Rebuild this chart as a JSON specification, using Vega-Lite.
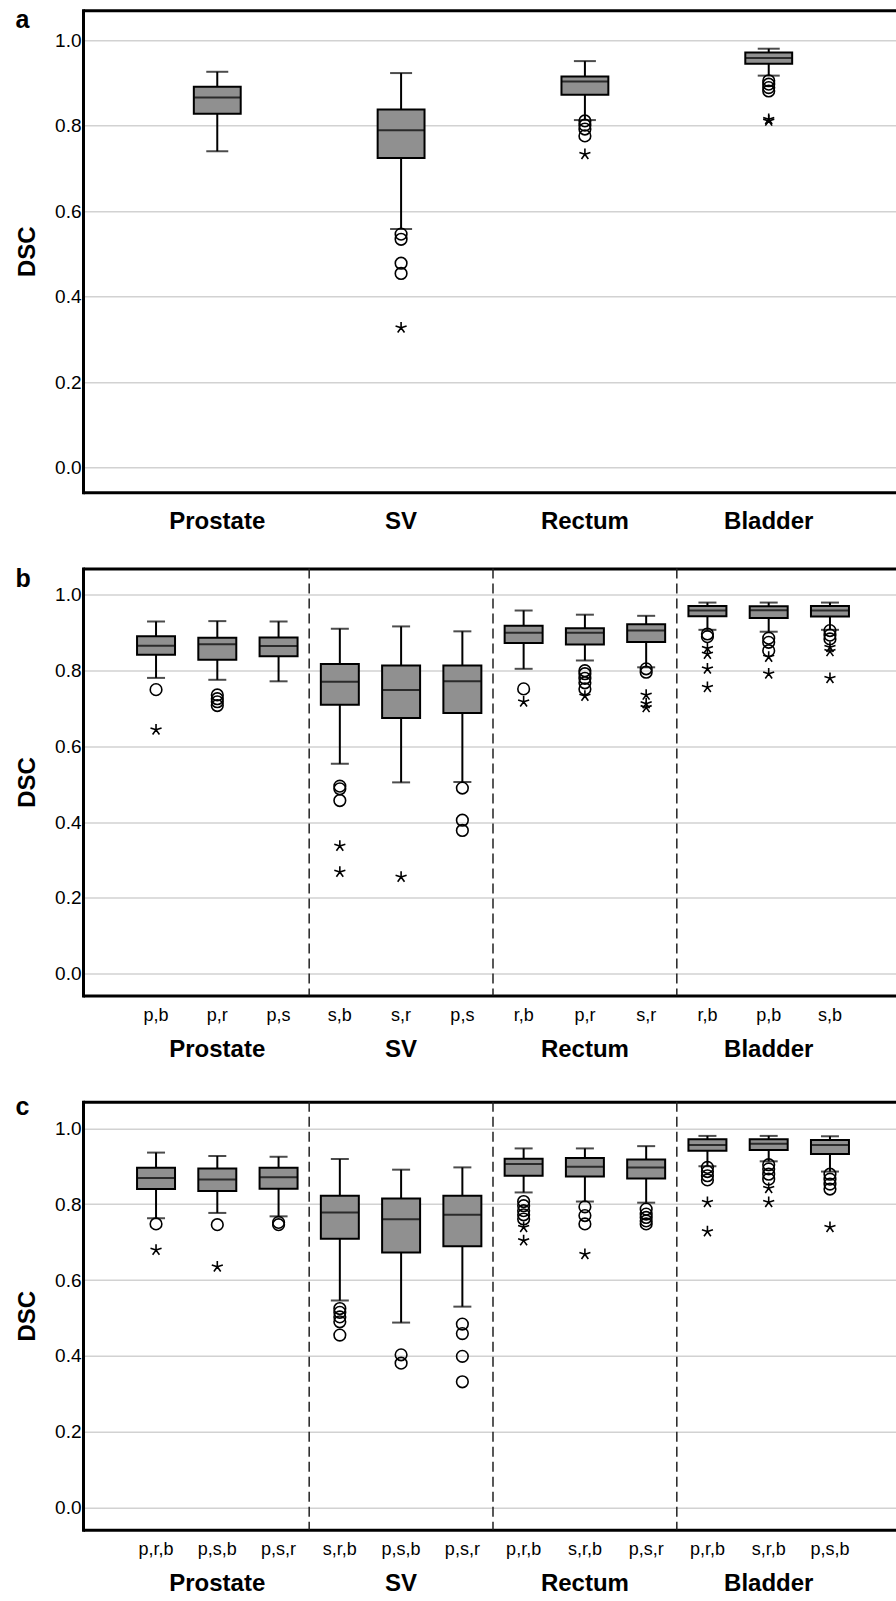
{
  "$schema": "https://vega.github.io/schema/vega-lite/v6.json",
  "background": "white",
  "padding": {"left": 15, "top": 7.25, "right": 0, "bottom": 0},
  "spacing": 33.25,
  "config": {
    "font": "Liberation Sans",
    "view": {"stroke": null},
    "axis": {"labelColor": "black", "titleColor": "black", "labelFont": "Liberation Sans", "titleFont": "Liberation Sans"},
    "title": {"anchor": "start", "frame": "bounds", "orient": "top", "fontSize": 25, "fontWeight": "bold", "color": "black", "font": "Liberation Sans"}
  },
  "datasets": {
    "boxA": [
      {"organ": "Prostate", "lo": 0.740, "q1": 0.828, "med": 0.866, "q3": 0.891, "hi": 0.926},
      {"organ": "SV", "lo": 0.558, "q1": 0.724, "med": 0.789, "q3": 0.838, "hi": 0.923},
      {"organ": "Rectum", "lo": 0.813, "q1": 0.872, "med": 0.903, "q3": 0.915, "hi": 0.951},
      {"organ": "Bladder", "lo": 0.917, "q1": 0.945, "med": 0.958, "q3": 0.971, "hi": 0.980}
    ],
    "outA": [
      {"organ": "SV", "v": 0.546, "kind": "circle"},
      {"organ": "SV", "v": 0.534, "kind": "circle"},
      {"organ": "SV", "v": 0.478, "kind": "circle"},
      {"organ": "SV", "v": 0.454, "kind": "circle"},
      {"organ": "SV", "v": 0.327, "kind": "star"},
      {"organ": "Rectum", "v": 0.811, "kind": "circle"},
      {"organ": "Rectum", "v": 0.801, "kind": "circle"},
      {"organ": "Rectum", "v": 0.792, "kind": "circle"},
      {"organ": "Rectum", "v": 0.776, "kind": "circle"},
      {"organ": "Rectum", "v": 0.733, "kind": "star"},
      {"organ": "Bladder", "v": 0.905, "kind": "circle"},
      {"organ": "Bladder", "v": 0.897, "kind": "circle"},
      {"organ": "Bladder", "v": 0.889, "kind": "circle"},
      {"organ": "Bladder", "v": 0.881, "kind": "circle"},
      {"organ": "Bladder", "v": 0.815, "kind": "star"},
      {"organ": "Bladder", "v": 0.811, "kind": "star"}
    ],
    "boxB": [
      {"key": "Prostate|p,b", "lo": 0.781, "q1": 0.842, "med": 0.866, "q3": 0.891, "hi": 0.930},
      {"key": "Prostate|p,r", "lo": 0.776, "q1": 0.829, "med": 0.870, "q3": 0.887, "hi": 0.931},
      {"key": "Prostate|p,s", "lo": 0.772, "q1": 0.838, "med": 0.865, "q3": 0.888, "hi": 0.930},
      {"key": "SV|s,b", "lo": 0.554, "q1": 0.710, "med": 0.771, "q3": 0.818, "hi": 0.911},
      {"key": "SV|s,r", "lo": 0.505, "q1": 0.675, "med": 0.749, "q3": 0.814, "hi": 0.917},
      {"key": "SV|p,s", "lo": 0.506, "q1": 0.688, "med": 0.772, "q3": 0.814, "hi": 0.904},
      {"key": "Rectum|r,b", "lo": 0.805, "q1": 0.873, "med": 0.900, "q3": 0.919, "hi": 0.959},
      {"key": "Rectum|p,r", "lo": 0.827, "q1": 0.869, "med": 0.900, "q3": 0.912, "hi": 0.948},
      {"key": "Rectum|s,r", "lo": 0.809, "q1": 0.876, "med": 0.906, "q3": 0.923, "hi": 0.945},
      {"key": "Bladder|r,b", "lo": 0.908, "q1": 0.944, "med": 0.959, "q3": 0.971, "hi": 0.980},
      {"key": "Bladder|p,b", "lo": 0.903, "q1": 0.939, "med": 0.960, "q3": 0.970, "hi": 0.980},
      {"key": "Bladder|s,b", "lo": 0.908, "q1": 0.943, "med": 0.959, "q3": 0.971, "hi": 0.980}
    ],
    "outB": [
      {"key": "Prostate|p,b", "v": 0.750, "kind": "circle"},
      {"key": "Prostate|p,b", "v": 0.644, "kind": "star"},
      {"key": "Prostate|p,r", "v": 0.736, "kind": "circle"},
      {"key": "Prostate|p,r", "v": 0.726, "kind": "circle"},
      {"key": "Prostate|p,r", "v": 0.718, "kind": "circle"},
      {"key": "Prostate|p,r", "v": 0.708, "kind": "circle"},
      {"key": "SV|s,b", "v": 0.495, "kind": "circle"},
      {"key": "SV|s,b", "v": 0.488, "kind": "circle"},
      {"key": "SV|s,b", "v": 0.457, "kind": "circle"},
      {"key": "SV|s,b", "v": 0.337, "kind": "star"},
      {"key": "SV|s,b", "v": 0.268, "kind": "star"},
      {"key": "SV|s,r", "v": 0.255, "kind": "star"},
      {"key": "SV|p,s", "v": 0.490, "kind": "circle"},
      {"key": "SV|p,s", "v": 0.405, "kind": "circle"},
      {"key": "SV|p,s", "v": 0.378, "kind": "circle"},
      {"key": "Rectum|r,b", "v": 0.752, "kind": "circle"},
      {"key": "Rectum|r,b", "v": 0.718, "kind": "star"},
      {"key": "Rectum|p,r", "v": 0.800, "kind": "circle"},
      {"key": "Rectum|p,r", "v": 0.792, "kind": "circle"},
      {"key": "Rectum|p,r", "v": 0.780, "kind": "circle"},
      {"key": "Rectum|p,r", "v": 0.768, "kind": "circle"},
      {"key": "Rectum|p,r", "v": 0.752, "kind": "circle"},
      {"key": "Rectum|p,r", "v": 0.733, "kind": "star"},
      {"key": "Rectum|s,r", "v": 0.805, "kind": "circle"},
      {"key": "Rectum|s,r", "v": 0.796, "kind": "circle"},
      {"key": "Rectum|s,r", "v": 0.736, "kind": "star"},
      {"key": "Rectum|s,r", "v": 0.713, "kind": "star"},
      {"key": "Rectum|s,r", "v": 0.703, "kind": "star"},
      {"key": "Bladder|r,b", "v": 0.897, "kind": "circle"},
      {"key": "Bladder|r,b", "v": 0.890, "kind": "circle"},
      {"key": "Bladder|r,b", "v": 0.859, "kind": "star"},
      {"key": "Bladder|r,b", "v": 0.844, "kind": "star"},
      {"key": "Bladder|r,b", "v": 0.805, "kind": "star"},
      {"key": "Bladder|r,b", "v": 0.756, "kind": "star"},
      {"key": "Bladder|p,b", "v": 0.886, "kind": "circle"},
      {"key": "Bladder|p,b", "v": 0.875, "kind": "circle"},
      {"key": "Bladder|p,b", "v": 0.853, "kind": "circle"},
      {"key": "Bladder|p,b", "v": 0.836, "kind": "star"},
      {"key": "Bladder|p,b", "v": 0.792, "kind": "star"},
      {"key": "Bladder|s,b", "v": 0.906, "kind": "circle"},
      {"key": "Bladder|s,b", "v": 0.894, "kind": "circle"},
      {"key": "Bladder|s,b", "v": 0.884, "kind": "circle"},
      {"key": "Bladder|s,b", "v": 0.862, "kind": "star"},
      {"key": "Bladder|s,b", "v": 0.851, "kind": "star"},
      {"key": "Bladder|s,b", "v": 0.780, "kind": "star"}
    ],
    "boxC": [
      {"key": "Prostate|p,r,b", "lo": 0.763, "q1": 0.840, "med": 0.869, "q3": 0.896, "hi": 0.936},
      {"key": "Prostate|p,s,b", "lo": 0.777, "q1": 0.835, "med": 0.865, "q3": 0.894, "hi": 0.927},
      {"key": "Prostate|p,s,r", "lo": 0.768, "q1": 0.841, "med": 0.871, "q3": 0.896, "hi": 0.925},
      {"key": "SV|s,r,b", "lo": 0.546, "q1": 0.709, "med": 0.778, "q3": 0.822, "hi": 0.919},
      {"key": "SV|p,s,b", "lo": 0.488, "q1": 0.673, "med": 0.760, "q3": 0.815, "hi": 0.891},
      {"key": "SV|p,s,r", "lo": 0.530, "q1": 0.689, "med": 0.772, "q3": 0.822, "hi": 0.897},
      {"key": "Rectum|p,r,b", "lo": 0.831, "q1": 0.875, "med": 0.906, "q3": 0.920, "hi": 0.947},
      {"key": "Rectum|s,r,b", "lo": 0.807, "q1": 0.873, "med": 0.899, "q3": 0.922, "hi": 0.947},
      {"key": "Rectum|p,s,r", "lo": 0.804, "q1": 0.868, "med": 0.897, "q3": 0.918, "hi": 0.953},
      {"key": "Bladder|p,r,b", "lo": 0.900, "q1": 0.941, "med": 0.956, "q3": 0.971, "hi": 0.980},
      {"key": "Bladder|s,r,b", "lo": 0.913, "q1": 0.943, "med": 0.959, "q3": 0.971, "hi": 0.980},
      {"key": "Bladder|p,s,b", "lo": 0.886, "q1": 0.932, "med": 0.956, "q3": 0.969, "hi": 0.979}
    ],
    "outC": [
      {"key": "Prostate|p,r,b", "v": 0.748, "kind": "circle"},
      {"key": "Prostate|p,r,b", "v": 0.679, "kind": "star"},
      {"key": "Prostate|p,s,b", "v": 0.746, "kind": "circle"},
      {"key": "Prostate|p,s,b", "v": 0.635, "kind": "star"},
      {"key": "Prostate|p,s,r", "v": 0.752, "kind": "circle"},
      {"key": "Prostate|p,s,r", "v": 0.746, "kind": "circle"},
      {"key": "SV|s,r,b", "v": 0.525, "kind": "circle"},
      {"key": "SV|s,r,b", "v": 0.515, "kind": "circle"},
      {"key": "SV|s,r,b", "v": 0.503, "kind": "circle"},
      {"key": "SV|s,r,b", "v": 0.490, "kind": "circle"},
      {"key": "SV|s,r,b", "v": 0.455, "kind": "circle"},
      {"key": "SV|p,s,b", "v": 0.403, "kind": "circle"},
      {"key": "SV|p,s,b", "v": 0.381, "kind": "circle"},
      {"key": "SV|p,s,r", "v": 0.484, "kind": "circle"},
      {"key": "SV|p,s,r", "v": 0.459, "kind": "circle"},
      {"key": "SV|p,s,r", "v": 0.399, "kind": "circle"},
      {"key": "SV|p,s,r", "v": 0.332, "kind": "circle"},
      {"key": "Rectum|p,r,b", "v": 0.807, "kind": "circle"},
      {"key": "Rectum|p,r,b", "v": 0.796, "kind": "circle"},
      {"key": "Rectum|p,r,b", "v": 0.783, "kind": "circle"},
      {"key": "Rectum|p,r,b", "v": 0.772, "kind": "circle"},
      {"key": "Rectum|p,r,b", "v": 0.761, "kind": "circle"},
      {"key": "Rectum|p,r,b", "v": 0.739, "kind": "star"},
      {"key": "Rectum|p,r,b", "v": 0.704, "kind": "star"},
      {"key": "Rectum|s,r,b", "v": 0.793, "kind": "circle"},
      {"key": "Rectum|s,r,b", "v": 0.770, "kind": "circle"},
      {"key": "Rectum|s,r,b", "v": 0.748, "kind": "circle"},
      {"key": "Rectum|s,r,b", "v": 0.668, "kind": "star"},
      {"key": "Rectum|p,s,r", "v": 0.787, "kind": "circle"},
      {"key": "Rectum|p,s,r", "v": 0.774, "kind": "circle"},
      {"key": "Rectum|p,s,r", "v": 0.765, "kind": "circle"},
      {"key": "Rectum|p,s,r", "v": 0.756, "kind": "circle"},
      {"key": "Rectum|p,s,r", "v": 0.748, "kind": "circle"},
      {"key": "Bladder|p,r,b", "v": 0.897, "kind": "circle"},
      {"key": "Bladder|p,r,b", "v": 0.886, "kind": "circle"},
      {"key": "Bladder|p,r,b", "v": 0.875, "kind": "circle"},
      {"key": "Bladder|p,r,b", "v": 0.864, "kind": "circle"},
      {"key": "Bladder|p,r,b", "v": 0.805, "kind": "star"},
      {"key": "Bladder|p,r,b", "v": 0.728, "kind": "star"},
      {"key": "Bladder|s,r,b", "v": 0.904, "kind": "circle"},
      {"key": "Bladder|s,r,b", "v": 0.893, "kind": "circle"},
      {"key": "Bladder|s,r,b", "v": 0.879, "kind": "circle"},
      {"key": "Bladder|s,r,b", "v": 0.866, "kind": "circle"},
      {"key": "Bladder|s,r,b", "v": 0.842, "kind": "star"},
      {"key": "Bladder|s,r,b", "v": 0.805, "kind": "star"},
      {"key": "Bladder|p,s,b", "v": 0.879, "kind": "circle"},
      {"key": "Bladder|p,s,b", "v": 0.866, "kind": "circle"},
      {"key": "Bladder|p,s,b", "v": 0.853, "kind": "circle"},
      {"key": "Bladder|p,s,b", "v": 0.840, "kind": "circle"},
      {"key": "Bladder|p,s,b", "v": 0.739, "kind": "star"}
    ],
    "dividers": [
      {"organ": "SV"},
      {"organ": "Rectum"},
      {"organ": "Bladder"}
    ]
  },
  "vconcat": [
    {
      "width": 813,
      "height": 482,
      "title": {"text": "a", "offset": -22.75},
      "encoding": {
        "x": {
          "field": "organ", "type": "nominal", "title": null,
          "scale": {"domain": ["Prostate", "SV", "Rectum", "Bladder"], "paddingInner": 0, "paddingOuter": 0.2114, "align": 0.545},
          "axis": {"orient": "bottom", "labelFontSize": 24, "labelFontWeight": "bold", "labelPadding": 17, "ticks": false, "tickSize": 0, "domain": false, "labelAngle": 0, "grid": false, "labelOverlap": false}
        }
      },
      "layer": [
        {
          "data": {"name": "boxA"},
          "mark": {"type": "rule", "color": "black", "strokeWidth": 2},
          "encoding": {
            "y": {
              "field": "lo", "type": "quantitative", "title": "DSC",
              "scale": {"domain": [-0.058, 1.07], "nice": false, "zero": false},
              "axis": {
                "values": [-0.058, 0, 0.2, 0.4, 0.6, 0.8, 1, 1.07],
                "labelExpr": "datum.value < -0.01 || datum.value > 1.01 ? '' : format(datum.value, '.1f')",
                "labelFontSize": 19,
                "titleFontSize": 24, "titleFontWeight": "bold", "titlePadding": 15,
                "labelPadding": 2, "ticks": false, "tickSize": 0,
                "domain": true, "domainColor": "black", "domainWidth": 3, "domainCap": "square",
                "grid": true,
                "gridColor": {"condition": {"test": "datum.value < -0.01 || datum.value > 1.01", "value": "black"}, "value": "#d2d2d2"},
                "gridWidth": {"condition": {"test": "datum.value < -0.01 || datum.value > 1.01", "value": 3}, "value": 1.5}
              }
            },
            "y2": {"field": "hi"}
          }
        },
        {
          "data": {"name": "boxA"},
          "mark": {"type": "tick", "color": "black", "size": 22, "thickness": 2},
          "encoding": {"y": {"field": "lo", "type": "quantitative", "title": "DSC"}}
        },
        {
          "data": {"name": "boxA"},
          "mark": {"type": "tick", "color": "black", "size": 22, "thickness": 2},
          "encoding": {"y": {"field": "hi", "type": "quantitative", "title": "DSC"}}
        },
        {
          "data": {"name": "boxA"},
          "mark": {"type": "bar", "width": {"band": 0.255}, "fill": "#909090", "stroke": "black", "strokeWidth": 2},
          "encoding": {"y": {"field": "q1", "type": "quantitative", "title": "DSC"}, "y2": {"field": "q3"}}
        },
        {
          "data": {"name": "boxA"},
          "mark": {"type": "tick", "color": "black", "size": 46, "thickness": 2},
          "encoding": {"y": {"field": "med", "type": "quantitative", "title": "DSC"}}
        },
        {
          "data": {"name": "outA"},
          "mark": {"type": "point", "filled": false, "color": "black", "strokeWidth": 1.6, "size": 135, "opacity": 1},
          "encoding": {
            "y": {"field": "v", "type": "quantitative", "title": "DSC"},
            "shape": {"field": "kind", "type": "nominal", "legend": null, "scale": {"domain": ["circle", "star"], "range": ["circle", "M0,0L0,-1M0,0L0.951,-0.309M0,0L-0.951,-0.309M0,0L0.588,0.809M0,0L-0.588,0.809"]}}
          }
        }
      ]
    },
    {
      "width": 813,
      "height": 427,
      "title": {"text": "b", "offset": -23.75},
      "resolve": {"scale": {"x": "independent"}, "axis": {"x": "independent"}},
      "layer": [
        {
          "encoding": {
            "x": {
              "field": "key", "type": "nominal", "title": null,
              "scale": {"domain": ["Prostate|p,b", "Prostate|p,r", "Prostate|p,s", "SV|s,b", "SV|s,r", "SV|p,s", "Rectum|r,b", "Rectum|p,r", "Rectum|s,r", "Bladder|r,b", "Bladder|p,b", "Bladder|s,b"], "paddingInner": 0, "paddingOuter": 0.635, "align": 0.545},
              "axis": {"orient": "bottom", "labelExpr": "split(datum.value, '|')[1]", "labelFontSize": 18, "labelPadding": 11, "ticks": false, "tickSize": 0, "domain": false, "labelAngle": 0, "grid": false, "labelOverlap": false}
            }
          },
          "layer": [
            {
              "data": {"name": "boxB"},
              "mark": {"type": "rule", "color": "black", "strokeWidth": 2},
              "encoding": {
                "y": {
                  "field": "lo", "type": "quantitative", "title": "DSC",
                  "scale": {"domain": [-0.058, 1.07], "nice": false, "zero": false},
                  "axis": {
                    "values": [-0.058, 0, 0.2, 0.4, 0.6, 0.8, 1, 1.07],
                    "labelExpr": "datum.value < -0.01 || datum.value > 1.01 ? '' : format(datum.value, '.1f')",
                    "labelFontSize": 19,
                    "titleFontSize": 24, "titleFontWeight": "bold", "titlePadding": 15,
                    "labelPadding": 2, "ticks": false, "tickSize": 0,
                    "domain": true, "domainColor": "black", "domainWidth": 3, "domainCap": "square",
                    "grid": true,
                    "gridColor": {"condition": {"test": "datum.value < -0.01 || datum.value > 1.01", "value": "black"}, "value": "#d2d2d2"},
                    "gridWidth": {"condition": {"test": "datum.value < -0.01 || datum.value > 1.01", "value": 3}, "value": 1.5}
                  }
                },
                "y2": {"field": "hi"}
              }
            },
            {
              "data": {"name": "boxB"},
              "mark": {"type": "tick", "color": "black", "size": 18, "thickness": 2},
              "encoding": {"y": {"field": "lo", "type": "quantitative", "title": "DSC"}}
            },
            {
              "data": {"name": "boxB"},
              "mark": {"type": "tick", "color": "black", "size": 18, "thickness": 2},
              "encoding": {"y": {"field": "hi", "type": "quantitative", "title": "DSC"}}
            },
            {
              "data": {"name": "boxB"},
              "mark": {"type": "bar", "width": {"band": 0.62}, "fill": "#909090", "stroke": "black", "strokeWidth": 2},
              "encoding": {"y": {"field": "q1", "type": "quantitative", "title": "DSC"}, "y2": {"field": "q3"}}
            },
            {
              "data": {"name": "boxB"},
              "mark": {"type": "tick", "color": "black", "size": 37, "thickness": 2},
              "encoding": {"y": {"field": "med", "type": "quantitative", "title": "DSC"}}
            },
            {
              "data": {"name": "outB"},
              "mark": {"type": "point", "filled": false, "color": "black", "strokeWidth": 1.6, "size": 135, "opacity": 1},
              "encoding": {
                "y": {"field": "v", "type": "quantitative", "title": "DSC"},
                "shape": {"field": "kind", "type": "nominal", "legend": null, "scale": {"domain": ["circle", "star"], "range": ["circle", "M0,0L0,-1M0,0L0.951,-0.309M0,0L-0.951,-0.309M0,0L0.588,0.809M0,0L-0.588,0.809"]}}
              }
            }
          ]
        },
        {
          "data": {"name": "dividers"},
          "mark": {"type": "rule", "color": "#222222", "strokeWidth": 1.5, "strokeDash": [10, 5]},
          "encoding": {
            "x": {
              "field": "organ", "type": "nominal", "title": null, "bandPosition": 0,
              "scale": {"domain": ["Prostate", "SV", "Rectum", "Bladder"], "paddingInner": 0, "paddingOuter": 0.2114, "align": 0.545},
              "axis": {"orient": "bottom", "labelFontSize": 24, "labelFontWeight": "bold", "labelPadding": 42, "ticks": false, "tickSize": 0, "domain": false, "labelAngle": 0, "grid": false, "labelOverlap": false}
            }
          }
        }
      ]
    },
    {
      "width": 813,
      "height": 428,
      "title": {"text": "c", "offset": -18.75},
      "resolve": {"scale": {"x": "independent"}, "axis": {"x": "independent"}},
      "layer": [
        {
          "encoding": {
            "x": {
              "field": "key", "type": "nominal", "title": null,
              "scale": {"domain": ["Prostate|p,r,b", "Prostate|p,s,b", "Prostate|p,s,r", "SV|s,r,b", "SV|p,s,b", "SV|p,s,r", "Rectum|p,r,b", "Rectum|s,r,b", "Rectum|p,s,r", "Bladder|p,r,b", "Bladder|s,r,b", "Bladder|p,s,b"], "paddingInner": 0, "paddingOuter": 0.635, "align": 0.545},
              "axis": {"orient": "bottom", "labelExpr": "split(datum.value, '|')[1]", "labelFontSize": 18, "labelPadding": 11, "ticks": false, "tickSize": 0, "domain": false, "labelAngle": 0, "grid": false, "labelOverlap": false}
            }
          },
          "layer": [
            {
              "data": {"name": "boxC"},
              "mark": {"type": "rule", "color": "black", "strokeWidth": 2},
              "encoding": {
                "y": {
                  "field": "lo", "type": "quantitative", "title": "DSC",
                  "scale": {"domain": [-0.058, 1.07], "nice": false, "zero": false},
                  "axis": {
                    "values": [-0.058, 0, 0.2, 0.4, 0.6, 0.8, 1, 1.07],
                    "labelExpr": "datum.value < -0.01 || datum.value > 1.01 ? '' : format(datum.value, '.1f')",
                    "labelFontSize": 19,
                    "titleFontSize": 24, "titleFontWeight": "bold", "titlePadding": 15,
                    "labelPadding": 2, "ticks": false, "tickSize": 0,
                    "domain": true, "domainColor": "black", "domainWidth": 3, "domainCap": "square",
                    "grid": true,
                    "gridColor": {"condition": {"test": "datum.value < -0.01 || datum.value > 1.01", "value": "black"}, "value": "#d2d2d2"},
                    "gridWidth": {"condition": {"test": "datum.value < -0.01 || datum.value > 1.01", "value": 3}, "value": 1.5}
                  }
                },
                "y2": {"field": "hi"}
              }
            },
            {
              "data": {"name": "boxC"},
              "mark": {"type": "tick", "color": "black", "size": 18, "thickness": 2},
              "encoding": {"y": {"field": "lo", "type": "quantitative", "title": "DSC"}}
            },
            {
              "data": {"name": "boxC"},
              "mark": {"type": "tick", "color": "black", "size": 18, "thickness": 2},
              "encoding": {"y": {"field": "hi", "type": "quantitative", "title": "DSC"}}
            },
            {
              "data": {"name": "boxC"},
              "mark": {"type": "bar", "width": {"band": 0.62}, "fill": "#909090", "stroke": "black", "strokeWidth": 2},
              "encoding": {"y": {"field": "q1", "type": "quantitative", "title": "DSC"}, "y2": {"field": "q3"}}
            },
            {
              "data": {"name": "boxC"},
              "mark": {"type": "tick", "color": "black", "size": 37, "thickness": 2},
              "encoding": {"y": {"field": "med", "type": "quantitative", "title": "DSC"}}
            },
            {
              "data": {"name": "outC"},
              "mark": {"type": "point", "filled": false, "color": "black", "strokeWidth": 1.6, "size": 135, "opacity": 1},
              "encoding": {
                "y": {"field": "v", "type": "quantitative", "title": "DSC"},
                "shape": {"field": "kind", "type": "nominal", "legend": null, "scale": {"domain": ["circle", "star"], "range": ["circle", "M0,0L0,-1M0,0L0.951,-0.309M0,0L-0.951,-0.309M0,0L0.588,0.809M0,0L-0.588,0.809"]}}
              }
            }
          ]
        },
        {
          "data": {"name": "dividers"},
          "mark": {"type": "rule", "color": "#222222", "strokeWidth": 1.5, "strokeDash": [10, 5]},
          "encoding": {
            "x": {
              "field": "organ", "type": "nominal", "title": null, "bandPosition": 0,
              "scale": {"domain": ["Prostate", "SV", "Rectum", "Bladder"], "paddingInner": 0, "paddingOuter": 0.2114, "align": 0.545},
              "axis": {"orient": "bottom", "labelFontSize": 24, "labelFontWeight": "bold", "labelPadding": 42, "ticks": false, "tickSize": 0, "domain": false, "labelAngle": 0, "grid": false, "labelOverlap": false}
            }
          }
        }
      ]
    }
  ]
}
